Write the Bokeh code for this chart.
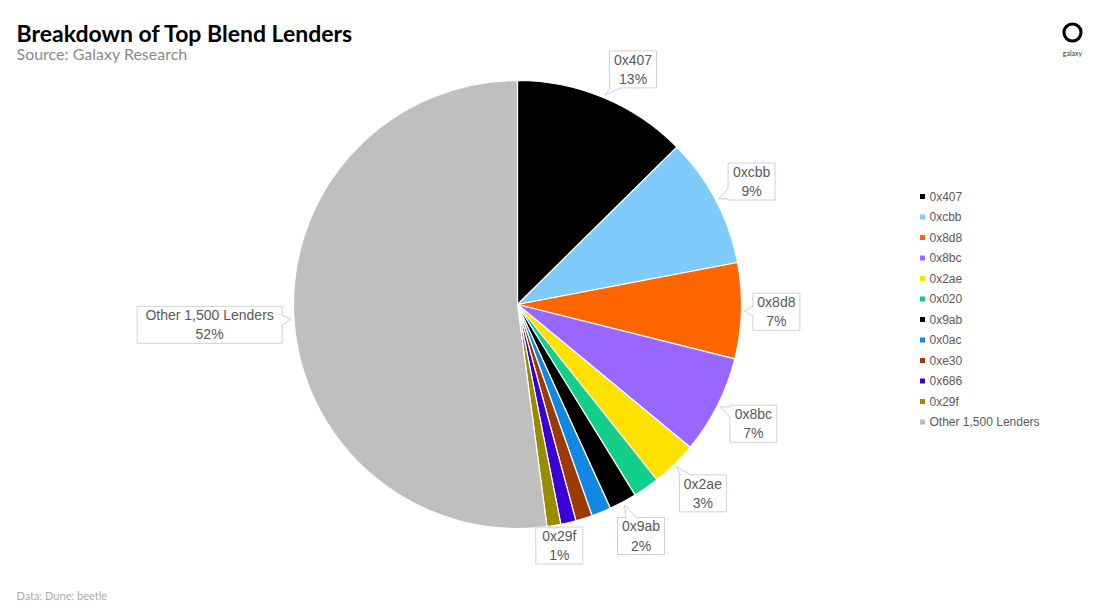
import math
from bokeh.plotting import figure
from bokeh.models import Range1d, ColumnDataSource
from bokeh.core.properties import value
from bokeh.embed import file_html
from bokeh.resources import INLINE

# ---------------- data ----------------
lenders = ["0x407", "0xcbb", "0x8d8", "0x8bc", "0x2ae", "0x020", "0x9ab",
           "0x0ac", "0xe30", "0x686", "0x29f", "Other 1,500 Lenders"]
shares = [12.6, 9.4, 6.9, 7.1, 3.3, 1.9, 2.0, 1.4, 1.2, 1.1, 1.0, 52.1]
colors = ["#000000", "#7FCBFD", "#FF6600", "#9966FF", "#FFE100", "#14CF8A",
          "#000000", "#1388E3", "#9C3A06", "#3A00D6", "#9A8C00", "#BFBFBF"]
labeled = ["0x407", "0xcbb", "0x8d8", "0x8bc", "0x2ae", "0x9ab", "0x29f",
           "Other 1,500 Lenders"]

title = "Breakdown of Top Blend Lenders"
subtitle = "Source: Galaxy Research"
footer = "Data: Dune: beetle"

# ---------------- layout ----------------
W, H = 1100, 606
CX, CY, R = 517, 302, 224
LABEL_FONT = value("Liberation Sans")
TEXT_GRAY = "#595959"
BOX_LINE = "#D0D0D0"

p = figure(width=W, height=H, x_range=Range1d(0, W), y_range=Range1d(0, H),
           output_backend="svg", toolbar_location=None,
           x_axis_location=None, y_axis_location=None, min_border=0)
p.grid.visible = False
p.outline_line_color = None
p.background_fill_color = "white"
p.border_fill_color = "white"

total = sum(shares)
cum = [0.0]
for s in shares:
    cum.append(cum[-1] + s / total)
starts = [math.pi / 2 - 2 * math.pi * c for c in cum[:-1]]
ends = [math.pi / 2 - 2 * math.pi * c for c in cum[1:]]

src = ColumnDataSource(dict(name=lenders, share=shares, color=colors,
                            start=starts, end=ends))
p.wedge(x=CX, y=CY, radius=R, start_angle="start", end_angle="end",
        direction="clock", fill_color="color", line_color="white",
        line_width=1.2, source=src)

# ---------------- callout labels ----------------
bx, by, bw, bh, btxt = [], [], [], [], []
tri_xs, tri_ys, side_xs, side_ys = [], [], [], []
for i, name in enumerate(lenders):
    if name not in labeled:
        continue
    theta = math.pi * (cum[i] + cum[i + 1])  # clockwise from top
    if i == 0:
        theta += math.radians(3.5)  # label nudged away from the top edge
    ux, uy = math.sin(theta), math.cos(theta)
    hw = (len(name) * 7.0 + 12) / 2
    hh = 18.5
    dist = R + 11 + hw * abs(ux) + hh * abs(uy)
    cx_, cy_ = CX + dist * ux, CY + dist * uy
    cy_ = max(cy_, 61)
    txt = f"{name}\n{round(shares[i] / total * 100)}%"
    bx.append(cx_); by.append(cy_); bw.append(2 * hw); bh.append(2 * hh); btxt.append(txt)
    tm = math.pi * (cum[i] + cum[i + 1])
    tipx, tipy = CX + (R + 3) * math.sin(tm), CY + (R + 3) * math.cos(tm)
    dx, dy = tipx - cx_, tipy - cy_
    tx = hw / abs(dx) if abs(dx) > 1e-9 else 1e9
    ty = hh / abs(dy) if abs(dy) > 1e-9 else 1e9
    t = min(tx, ty)
    px, py = cx_ + t * dx, cy_ + t * dy
    n = math.hypot(dx, dy)
    ix, iy = -dx / n * 1.5, -dy / n * 1.5
    if tx < ty:  # hits a vertical edge
        py = min(max(py, cy_ - hh + 6), cy_ + hh - 6)
        a = (px, py - 5); b = (px, py + 5)
    else:
        px = min(max(px, cx_ - hw + 6), cx_ + hw - 6)
        a = (px - 5, py); b = (px + 5, py)
    tri_xs.append([a[0] + ix, tipx, b[0] + ix]); tri_ys.append([a[1] + iy, tipy, b[1] + iy])
    side_xs += [[a[0], tipx], [b[0], tipx]]
    side_ys += [[a[1], tipy], [b[1], tipy]]

p.rect(x=bx, y=by, width=bw, height=bh, fill_color="white",
       line_color=BOX_LINE, line_width=1)
p.patches(xs=tri_xs, ys=tri_ys, fill_color="white", line_color=None)
p.multi_line(xs=side_xs, ys=side_ys, line_color=BOX_LINE, line_width=1)
p.text(x=bx, y=by, text=btxt, text_align="center", text_baseline="middle",
       text_font=LABEL_FONT, text_font_size="14px", text_color=TEXT_GRAY,
       text_line_height=1.2)

# ---------------- legend ----------------
leg_y = [H - (196 + k * 20.5) for k in range(len(lenders))]
p.scatter(x=[922] * len(lenders), y=leg_y, marker="square", size=5,
          fill_color=colors, line_color=None)
p.text(x=[929] * len(lenders), y=leg_y, text=lenders, text_align="left",
       text_baseline="middle", text_font=LABEL_FONT, text_font_size="12px",
       text_color=TEXT_GRAY)

# ---------------- titles ----------------
p.text(x=[16], y=[H - 32], text=[title], text_font=value("Lato"),
       text_font_style="bold", text_font_size="23px", text_color="#000000",
       text_baseline="alphabetic")
p.text(x=[16], y=[H - 53], text=[subtitle], text_font=value("Lato"),
       text_font_size="16px", text_color="#8A8A8A", text_baseline="alphabetic")
p.text(x=[16], y=[H - 595], text=[footer], text_font=value("Lato"),
       text_font_size="11px", text_color="#ABABAB", text_baseline="alphabetic")

# logo
p.scatter(x=[1072], y=[H - 32], marker="circle", size=17, fill_color="white",
          line_color="black", line_width=3.2)
p.text(x=[1072], y=[H - 52], text=["galaxy"], text_font=value("Lato"),
       text_font_size="7px", text_color="#333333", text_align="center",
       text_baseline="middle")

open("out.html", "w").write(file_html(p, INLINE))
